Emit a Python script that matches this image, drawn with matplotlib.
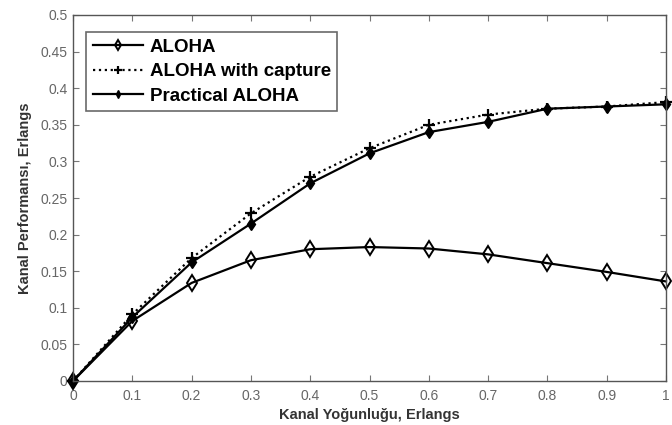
import matplotlib
matplotlib.use("Agg")
import matplotlib.pyplot as plt

plt.rcParams['font.family'] = ['Liberation Sans', 'DejaVu Sans']

x = [0, 0.1, 0.2, 0.3, 0.4, 0.5, 0.6, 0.7, 0.8, 0.9, 1.0]
aloha = [0, 0.082, 0.134, 0.165, 0.180, 0.183, 0.181, 0.173, 0.161, 0.149, 0.136]
aloha_capture = [0, 0.091, 0.168, 0.229, 0.279, 0.318, 0.350, 0.364, 0.372, 0.375, 0.381]
practical = [0, 0.087, 0.162, 0.215, 0.270, 0.311, 0.340, 0.354, 0.372, 0.375, 0.378]

xticks = [0, 0.1, 0.2, 0.3, 0.4, 0.5, 0.6, 0.7, 0.8, 0.9, 1]
xticklabels = ['0', '0.1', '0.2', '0.3', '0.4', '0.5', '0.6', '0.7', '0.8', '0.9', '1']
yticks = [0, 0.05, 0.1, 0.15, 0.2, 0.25, 0.3, 0.35, 0.4, 0.45, 0.5]
yticklabels = ['0', '0.05', '0.1', '0.15', '0.2', '0.25', '0.3', '0.35', '0.4', '0.45', '0.5']

fig = plt.figure(figsize=(6.72, 4.25), dpi=100)
ax = fig.add_axes([73/672, 1 - 381/425, (666-73)/672, (381-15)/425])

ax.plot(x, aloha, '-', color='black', lw=1.6, marker='d', markersize=8,
        markerfacecolor='none', markeredgewidth=1.4, label='ALOHA', clip_on=False)
ax.plot(x, aloha_capture, ':', color='black', lw=1.6, marker='+', markersize=9,
        markeredgewidth=1.6, label='ALOHA with capture', clip_on=False)
ax.plot(x, practical, '-', color='black', lw=1.6, marker='d', markersize=6,
        markerfacecolor='black', label='Practical ALOHA', clip_on=False)

ax.set_xlim(0, 1)
ax.set_ylim(0, 0.5)
ax.set_xticks(xticks)
ax.set_xticklabels(xticklabels)
ax.set_yticks(yticks)
ax.set_yticklabels(yticklabels)
ax.tick_params(direction='in', top=True, right=True, length=4, labelsize=10,
               labelcolor='#666666', color='#777777')
ax.tick_params(axis='x', pad=6)
ax.tick_params(axis='y', pad=4)
for s in ax.spines.values():
    s.set_color('#555555')
    s.set_linewidth(1.0)

ax.set_xlabel('Kanal Yoğunluğu, Erlangs', fontsize=10.5, fontweight='bold',
              color='#333333', labelpad=3)
ax.set_ylabel('Kanal Performansı, Erlangs', fontsize=10.5, fontweight='bold',
              color='#333333', labelpad=6)

leg = ax.legend(loc='upper left', bbox_to_anchor=(0.022, 0.954), borderaxespad=0,
                prop={'weight': 'bold', 'size': 13.5}, frameon=True, fancybox=False,
                handlelength=2.7, handletextpad=0.35, borderpad=0.35, labelspacing=0.4,
                markerscale=0.7)
leg.get_frame().set_edgecolor('#444444')
leg.get_frame().set_linewidth(1.2)

fig.savefig('out.png', dpi=100)
